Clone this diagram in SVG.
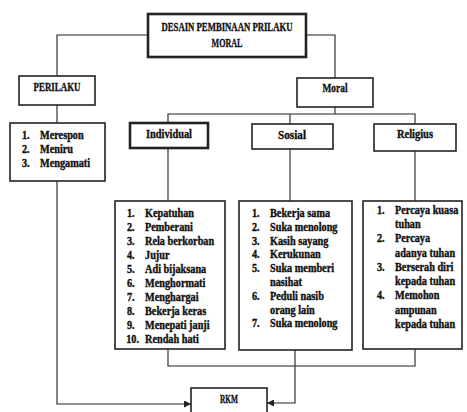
<svg xmlns="http://www.w3.org/2000/svg" width="467" height="412" viewBox="0 0 467 412">
<style>
.box{fill:#fff;stroke:#222;stroke-width:1.6}
.thick{stroke-width:2.6}
.con{fill:none;stroke:#222;stroke-width:1.1}
text{font-family:"Liberation Serif","Times New Roman",serif;font-weight:bold;fill:#111;stroke:#111;stroke-width:0.4}
.h{font-size:13.5px;text-anchor:middle}
.l{font-size:12.5px}
</style>
<defs>
<marker id="arr" viewBox="0 0 8 8" refX="8" refY="4" markerWidth="7" markerHeight="7" markerUnits="userSpaceOnUse" orient="auto">
<path d="M0,0 L8,4 L0,8 z" fill="#222"/>
</marker>
</defs>
<g id="connectors">
<path class="con" d="M148,35 H57 V76"/>
<path class="con" d="M306,35 H335 V78"/>
<path class="con" d="M57,105 V123"/>
<path class="con" d="M335,107 V114"/>
<path class="con" d="M168,123 V114 H415 V124"/>
<path class="con" d="M290,114 V124"/>
<path class="con" d="M168,148 V201"/>
<path class="con" d="M290,149 V201"/>
<path class="con" d="M415,151 V201"/>
<path class="con" d="M168,349 V366 H415 V349"/>
<path class="con" d="M295,350 V403 H267" marker-end="url(#arr)"/>
<path class="con" d="M57,181 V404 H191" marker-end="url(#arr)"/>
</g>
<g id="title">
<rect class="box thick" x="148" y="14" width="158" height="43"/>
<text class="h" x="227" y="31" textLength="131" lengthAdjust="spacingAndGlyphs">DESAIN PEMBINAAN PRILAKU</text>
<text class="h" x="227" y="47" textLength="31" lengthAdjust="spacingAndGlyphs">MORAL</text>
</g>
<g id="perilaku">
<rect class="box" x="19" y="76" width="76" height="29"/>
<text class="h" x="57" y="91" textLength="47" lengthAdjust="spacingAndGlyphs">PERILAKU</text>
</g>
<g id="perilaku-list">
<rect class="box" x="10" y="123" width="95" height="58"/>
<g transform="translate(22 0) scale(0.82 1)">
<text class="l" x="0" y="139">1.</text><text class="l" x="22" y="139">Merespon</text>
<text class="l" x="0" y="153">2.</text><text class="l" x="22" y="153">Meniru</text>
<text class="l" x="0" y="167">3.</text><text class="l" x="22" y="167">Mengamati</text>
</g>
</g>
<g id="moral">
<rect class="box" x="297" y="78" width="76" height="29"/>
<text class="h" x="335" y="92" textLength="25" lengthAdjust="spacingAndGlyphs">Moral</text>
</g>
<g id="individual">
<rect class="box thick" x="130" y="123" width="78" height="25"/>
<text class="h" x="169" y="138" textLength="46" lengthAdjust="spacingAndGlyphs">Individual</text>
</g>
<g id="sosial">
<rect class="box" x="252" y="124" width="81" height="25"/>
<text class="h" x="292" y="139" textLength="28" lengthAdjust="spacingAndGlyphs">Sosial</text>
</g>
<g id="religius">
<rect class="box" x="374" y="124" width="82" height="27"/>
<text class="h" x="415" y="138" textLength="36" lengthAdjust="spacingAndGlyphs">Religius</text>
</g>
<g id="individual-list">
<rect class="box" x="115" y="201" width="110" height="148"/>
<g transform="translate(127 0) scale(0.82 1)">
<text class="l" x="0" y="217">1.</text><text class="l" x="22" y="217">Kepatuhan</text>
<text class="l" x="0" y="231">2.</text><text class="l" x="22" y="231">Pemberani</text>
<text class="l" x="0" y="245">3.</text><text class="l" x="22" y="245">Rela berkorban</text>
<text class="l" x="0" y="259">4.</text><text class="l" x="22" y="259">Jujur</text>
<text class="l" x="0" y="273">5.</text><text class="l" x="22" y="273">Adi bijaksana</text>
<text class="l" x="0" y="287">6.</text><text class="l" x="22" y="287">Menghormati</text>
<text class="l" x="0" y="301">7.</text><text class="l" x="22" y="301">Menghargai</text>
<text class="l" x="0" y="315">8.</text><text class="l" x="22" y="315">Bekerja keras</text>
<text class="l" x="0" y="329">9.</text><text class="l" x="22" y="329">Menepati janji</text>
<text class="l" x="-1" y="343">10.</text><text class="l" x="22" y="343">Rendah hati</text>
</g>
</g>
<g id="sosial-list">
<rect class="box" x="239" y="201" width="113" height="149"/>
<g transform="translate(252 0) scale(0.82 1)">
<text class="l" x="0" y="217">1.</text><text class="l" x="22" y="217">Bekerja sama</text>
<text class="l" x="0" y="231">2.</text><text class="l" x="22" y="231">Suka menolong</text>
<text class="l" x="0" y="245">3.</text><text class="l" x="22" y="245">Kasih sayang</text>
<text class="l" x="0" y="258">4.</text><text class="l" x="22" y="258">Kerukunan</text>
<text class="l" x="0" y="272">5.</text><text class="l" x="22" y="272">Suka memberi</text>
<text class="l" x="22" y="286">nasihat</text>
<text class="l" x="0" y="300">6.</text><text class="l" x="22" y="300">Peduli nasib</text>
<text class="l" x="22" y="314">orang lain</text>
<text class="l" x="0" y="327">7.</text><text class="l" x="22" y="327">Suka menolong</text>
</g>
</g>
<g id="religius-list">
<rect class="box" x="363" y="201" width="99" height="148"/>
<g transform="translate(377 0) scale(0.82 1)">
<text class="l" x="0" y="214">1.</text><text class="l" x="22" y="214">Percaya kuasa</text>
<text class="l" x="22" y="228">tuhan</text>
<text class="l" x="0" y="242">2.</text><text class="l" x="22" y="242">Percaya</text>
<text class="l" x="22" y="257">adanya tuhan</text>
<text class="l" x="0" y="271">3.</text><text class="l" x="22" y="271">Berserah diri</text>
<text class="l" x="22" y="285">kepada tuhan</text>
<text class="l" x="0" y="299">4.</text><text class="l" x="22" y="299">Memohon</text>
<text class="l" x="22" y="314">ampunan</text>
<text class="l" x="22" y="328">kepada tuhan</text>
</g>
</g>
<g id="rkm">
<rect class="box" x="191" y="388" width="76" height="30"/>
<text class="h" x="229" y="403" font-size="12" textLength="18" lengthAdjust="spacingAndGlyphs">RKM</text>
</g>
</svg>
